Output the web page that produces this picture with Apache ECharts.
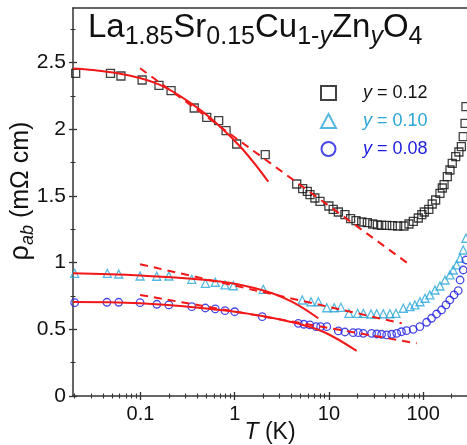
<!DOCTYPE html>
<html>
<head>
<meta charset="utf-8">
<script src="https://cdn.jsdelivr.net/npm/echarts@6/dist/echarts.min.js"></script>
<style>html,body{margin:0;padding:0;background:#fff}#c{width:467px;height:445px}</style>
</head>
<body>
<div id="c"></div>
<script>
// ---- data (T in K, rho_ab in mOhm cm) ----
const T_y12 = [0.0205,0.048,0.062,0.104,0.157,0.211,0.372,0.505,0.676,0.81,1.05,2.11,4.55,5.27,5.9,6.3,7.1,8.05,10.0,11.1,12.6,14.8,17.0,19.4,22.3,25.6,29.2,32.7,36.3,41.1,47.1,53.7,62.7,70.8,78.7,89,97,103,115,125,136,151,160,167,181,193,204,222,240,255,267,279,285];
const R_y12 = [2.42,2.42,2.40,2.37,2.33,2.29,2.16,2.09,2.065,1.99,1.89,1.81,1.59,1.555,1.535,1.51,1.485,1.46,1.425,1.40,1.38,1.36,1.33,1.315,1.305,1.30,1.29,1.283,1.28,1.28,1.278,1.275,1.275,1.29,1.31,1.335,1.36,1.38,1.40,1.44,1.47,1.52,1.56,1.585,1.645,1.695,1.745,1.795,1.83,1.87,1.945,2.045,2.17];

const T_y10 = [0.02,0.0444,0.0587,0.0989,0.1486,0.2,0.35,0.488,0.622,0.789,0.967,2.01,5.22,6.46,7.73,9.5,11.4,13.4,16.3,20.2,23.2,28,32.2,37.8,44.5,51.5,61.7,72.6,82,92.7,105,118,134,151,171,193,209,227,247,267,285];
const R_y10 = [0.92,0.92,0.915,0.90,0.898,0.90,0.875,0.845,0.853,0.833,0.827,0.80,0.72,0.707,0.707,0.662,0.662,0.665,0.62,0.62,0.62,0.615,0.617,0.617,0.617,0.62,0.658,0.67,0.683,0.707,0.733,0.758,0.795,0.825,0.87,0.908,0.945,0.983,1.033,1.095,1.183];

const T_y08 = [0.02,0.044,0.0587,0.099,0.149,0.2,0.35,0.488,0.622,0.789,1.0,1.96,4.73,5.44,6.28,7.3,8.16,9.5,12.6,14.8,18.1,20.5,23.2,28.4,32.2,36.3,41,46.4,52.5,59,66.7,78.6,92.3,109,123,139,157,175,192,213,236,247,267,285];
const R_y08 = [0.70,0.703,0.703,0.70,0.688,0.683,0.67,0.66,0.653,0.64,0.632,0.595,0.545,0.538,0.533,0.52,0.52,0.52,0.488,0.48,0.475,0.475,0.47,0.47,0.465,0.463,0.458,0.463,0.47,0.482,0.49,0.50,0.52,0.553,0.583,0.615,0.645,0.683,0.72,0.758,0.79,0.87,0.945,1.02];

// fit curves (red)
const fitSolid12_T = [0.0192,0.0316,0.0714,0.161,0.363,0.67,1.234,2.27];
const fitSolid12_R = [2.457,2.445,2.408,2.333,2.183,2.033,1.845,1.608];
const fitDash12_T = [0.099,72.6];
const fitDash12_R = [2.458,0.983];

const fitSolid10_T = [0.0192,0.099,0.698,2.1,4.03,7.72];
const fitSolid10_R = [0.92,0.903,0.858,0.788,0.708,0.583];
const fitDash10_T = [0.099,59.3];
const fitDash10_R = [0.988,0.545];

const fitSolid08_T = [0.0192,0.099,0.698,1.96,4.55,8.73,19.7];
const fitSolid08_R = [0.705,0.695,0.645,0.60,0.545,0.482,0.338];
const fitDash08_T = [0.099,85.5];
const fitDash08_R = [0.758,0.395];

// axes ticks / labels
const xMajor = [0.1,1,10,100];
const xMinor = [0.02,0.03,0.04,0.05,0.06,0.07,0.08,0.09,0.2,0.3,0.4,0.5,0.6,0.7,0.8,0.9,2,3,4,5,6,7,8,9,20,30,40,50,60,70,80,90,200];
const yMajor = [0,0.5,1,1.5,2,2.5];
const yMinor = [0.25,0.75,1.25,1.75,2.25,2.75];
const legendNames = ['y = 0.12','y = 0.10','y = 0.08'];

const zip = (a,b) => a.map((v,i)=>[v,b[i]]);

const FONT = 'Liberation Sans, Arial, Helvetica, sans-serif';
const AX = '#333';
const RED = '#f21818';
const CYAN = '#2ba6d8';
const BLUE = '#1c1ce0';
const XMIN = 0.0192, XMAX = 292.6, YMIN = 0, YMAX = 2.91;

function xAx(opts){
  return Object.assign({
    type:'log', logBase:10, min:XMIN, max:XMAX, position:'bottom', gridIndex:0,
    axisLine:{show:false, onZero:false},
    axisTick:{show:false}, axisLabel:{show:false}, splitLine:{show:false}, minorTick:{show:false}, minorSplitLine:{show:false}
  }, opts);
}
function yAx(opts){
  return Object.assign({
    type:'value', min:YMIN, max:YMAX, position:'left', gridIndex:0,
    axisLine:{show:false, onZero:false},
    axisTick:{show:false}, axisLabel:{show:false}, splitLine:{show:false}, minorTick:{show:false}
  }, opts);
}

const chart = echarts.init(document.getElementById('c'), null, {renderer:'canvas'});
const option = {
  animation:false,
  backgroundColor:'#fff',
  grid:{left:73, right:0, top:8, bottom:49, containLabel:false, outerBoundsMode:'none'},
  xAxis:[
    xAx({
      axisLine:{show:true, onZero:false, lineStyle:{color:AX, width:1.5}},
      axisTick:{show:true, inside:true, length:4, customValues:xMajor, lineStyle:{color:AX, width:1.3}},
      axisLabel:{show:true, customValues:xMajor, margin:8, color:'#111', fontSize:20, fontFamily:FONT,
        formatter:v=>String(parseFloat(Number(v).toPrecision(6)))},
      name:'{i|T} (K)', nameLocation:'middle', nameGap:25, nameMoveOverlap:false,
      nameTextStyle:{fontSize:23, fontFamily:FONT, color:'#111', rich:{i:{fontStyle:'italic', fontSize:23, fontFamily:FONT}}}
    }),
    xAx({axisTick:{show:true, inside:false, length:4, customValues:xMajor, lineStyle:{color:AX, width:1.3}}}),
    xAx({axisTick:{show:true, inside:true, length:2.5, customValues:xMinor, lineStyle:{color:AX, width:1.1}}}),
    xAx({axisTick:{show:true, inside:false, length:2.5, customValues:xMinor, lineStyle:{color:AX, width:1.1}}}),
    xAx({position:'top', axisLine:{show:true, onZero:false, lineStyle:{color:AX, width:1.5}}})
  ],
  yAxis:[
    yAx({
      axisLine:{show:true, onZero:false, lineStyle:{color:AX, width:1.5}},
      axisTick:{show:true, inside:true, length:4, customValues:yMajor, lineStyle:{color:AX, width:1.3}},
      axisLabel:{show:true, customValues:yMajor, margin:7, color:'#111', fontSize:21, fontFamily:FONT, formatter:v=>String(v)},
      name:'{g|ρ}{s|ab} (mΩ cm)', nameLocation:'middle', nameGap:36, nameMoveOverlap:false,
      nameTextStyle:{fontSize:25, fontFamily:FONT, color:'#111', padding:[0,0,0,22],
        rich:{g:{fontSize:27, fontFamily:FONT, lineHeight:32}, s:{fontSize:18, fontStyle:'italic', fontFamily:FONT, verticalAlign:'bottom', lineHeight:14}}}
    }),
    yAx({axisTick:{show:true, inside:false, length:4, customValues:yMajor, lineStyle:{color:AX, width:1.3}}}),
    yAx({axisTick:{show:true, inside:true, length:2.5, customValues:yMinor, lineStyle:{color:AX, width:1.1}}}),
    yAx({axisTick:{show:true, inside:false, length:2.5, customValues:yMinor, lineStyle:{color:AX, width:1.1}}})
  ],
  legend:{
    orient:'vertical', left:315, top:79, itemWidth:15, itemHeight:14, itemGap:10,
    data:[
      {name:legendNames[0], textStyle:{color:'#111'}},
      {name:legendNames[1], textStyle:{color:CYAN}},
      {name:legendNames[2], textStyle:{color:BLUE}}
    ],
    formatter: n => '{i|y}' + n.slice(1),
    textStyle:{fontSize:18, fontFamily:FONT, lineHeight:15, padding:[0,0,0,22], rich:{i:{fontStyle:'italic', fontSize:18, fontFamily:FONT}}}
  },
  graphic:[{
    type:'text', left:88, top:11, z:100,
    style:{
      text:'{m|La}{s|1.85}{m|Sr}{s|0.15}{m|Cu}{s|1-}{si|y}{m|Zn}{si|y}{m|O}{s|4}',
      fill:'#111', font:'33px '+FONT,
      rich:{
        m:{fontSize:33, fontFamily:FONT, lineHeight:44, fill:'#111'},
        s:{fontSize:25, fontFamily:FONT, lineHeight:20, verticalAlign:'bottom', fill:'#111'},
        si:{fontSize:25, fontFamily:FONT, fontStyle:'italic', lineHeight:20, verticalAlign:'bottom', fill:'#111'}
      }
    }
  }],
  series:[
    {name:legendNames[0], type:'scatter', symbol:'rect', symbolSize:8, data:zip(T_y12,R_y12),
      itemStyle:{color:'rgba(0,0,0,0)', borderColor:'#111', borderWidth:1.3}, z:2},
    {name:legendNames[1], type:'scatter', symbol:'triangle', symbolSize:8, data:zip(T_y10,R_y10),
      itemStyle:{color:'rgba(0,0,0,0)', borderColor:CYAN, borderWidth:1.3}, z:2},
    {name:legendNames[2], type:'scatter', symbol:'circle', symbolSize:7.5, data:zip(T_y08,R_y08),
      itemStyle:{color:'rgba(0,0,0,0)', borderColor:BLUE, borderWidth:1.3}, z:2},
    {name:'fit12', type:'line', smooth:0.4, showSymbol:false, data:zip(fitSolid12_T,fitSolid12_R), lineStyle:{color:RED, width:2}, z:3},
    {name:'fit12d', type:'line', showSymbol:false, data:zip(fitDash12_T,fitDash12_R), lineStyle:{color:RED, width:2, type:[8,6]}, z:3},
    {name:'fit10', type:'line', smooth:0.4, showSymbol:false, data:zip(fitSolid10_T,fitSolid10_R), lineStyle:{color:RED, width:2}, z:3},
    {name:'fit10d', type:'line', showSymbol:false, data:zip(fitDash10_T,fitDash10_R), lineStyle:{color:RED, width:2, type:[8,6]}, z:3},
    {name:'fit08', type:'line', smooth:0.4, showSymbol:false, data:zip(fitSolid08_T,fitSolid08_R), lineStyle:{color:RED, width:2}, z:3},
    {name:'fit08d', type:'line', showSymbol:false, data:zip(fitDash08_T,fitDash08_R), lineStyle:{color:RED, width:2, type:[8,6]}, z:3}
  ]
};
chart.setOption(option);
</script>
</body>
</html>
